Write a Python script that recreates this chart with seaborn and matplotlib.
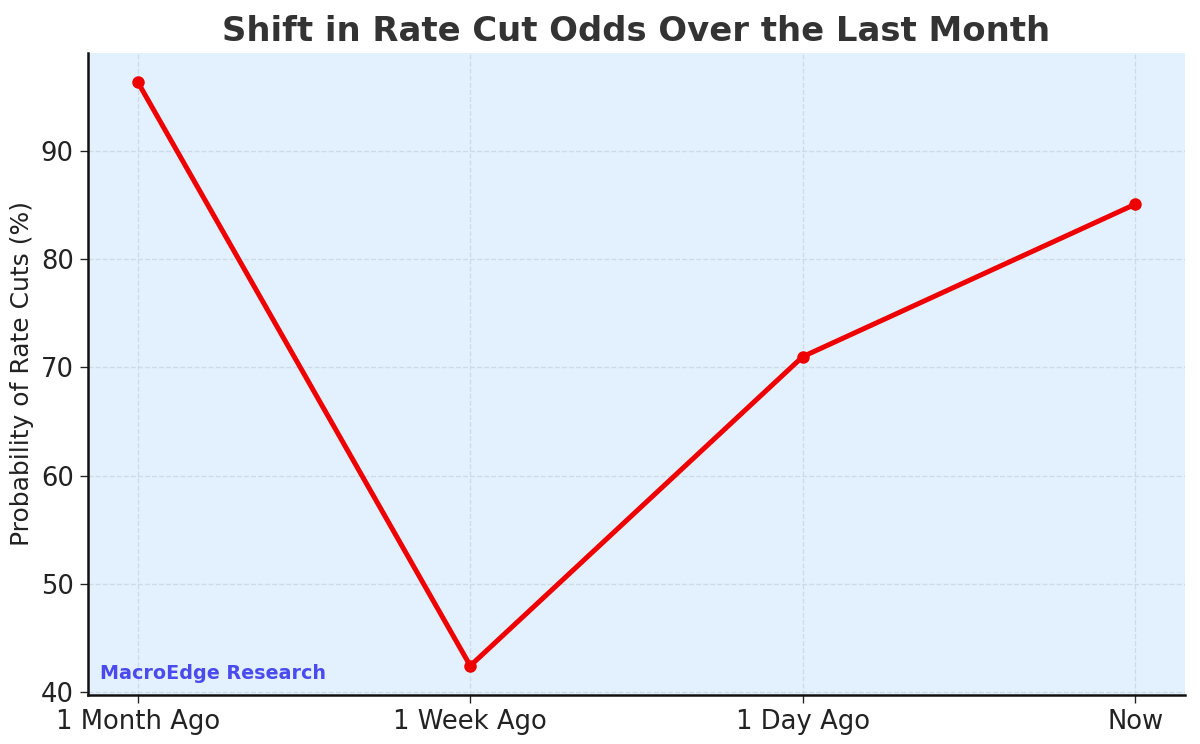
import matplotlib
matplotlib.use("Agg")
import matplotlib.pyplot as plt
import seaborn as sns
import pandas as pd

# data
periods = ["1 Month Ago", "1 Week Ago", "1 Day Ago", "Now"]
odds = [96.4, 42.4, 71.0, 85.1]

df = pd.DataFrame({"period": periods, "odds": odds})

sns.set_style("ticks")
plt.rcParams["font.family"] = ["DejaVu Sans"]

fig, ax = plt.subplots(figsize=(10, 6.2), dpi=120)
fig.subplots_adjust(left=0.0733, right=0.9875, top=0.9288, bottom=0.0659)
ax.set_facecolor("#e3f0fd")

sns.lineplot(data=df, x="period", y="odds", sort=False, ax=ax,
             color="#ee0000", linewidth=3.0, marker="o", markersize=7.5,
             markeredgewidth=0)

ax.margins(x=0.05, y=0.05)
ax.grid(True, linestyle="--", color="#c8d6e5", linewidth=0.8, alpha=0.8)
ax.set_axisbelow(True)

ax.set_title("Shift in Rate Cut Odds Over the Last Month", fontsize=20.3,
             fontweight="bold", color="#333333", pad=7)
ax.set_xlabel("")
ax.set_ylabel("Probability of Rate Cuts (%)", fontsize=15, color="#222222")
ax.tick_params(axis="both", labelsize=15.5, colors="#222222", length=5)
ax.set_yticks([40, 50, 60, 70, 80, 90])

for side in ["top", "right"]:
    ax.spines[side].set_visible(False)
for side in ["left", "bottom"]:
    ax.spines[side].set_linewidth(1.5)
    ax.spines[side].set_color("#111111")

ax.text(0.011, 0.018, "MacroEdge Research", transform=ax.transAxes,
        fontsize=11.5, fontweight="bold", color="#4a4aee", va="bottom")

plt.savefig("out.png", dpi=120)
